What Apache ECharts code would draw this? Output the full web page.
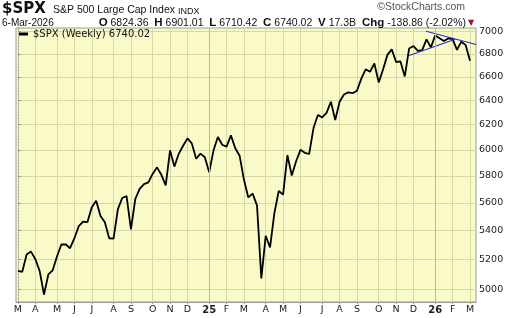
<!DOCTYPE html>
<html>
<head>
<meta charset="utf-8">
<script src="https://cdn.jsdelivr.net/npm/echarts@6/dist/echarts.min.js"></script>
<style>
html,body{margin:0;padding:0;background:#fff;}
#chart{width:520px;height:318px;}
</style>
</head>
<body>
<div id="chart"></div>
<script>
// Week-ending dates (weekly bars)
const dates = [
 '2024-03-08','2024-03-15','2024-03-22','2024-03-29','2024-04-05','2024-04-12','2024-04-19','2024-04-26',
 '2024-05-03','2024-05-10','2024-05-17','2024-05-24','2024-05-31','2024-06-07','2024-06-14','2024-06-21',
 '2024-06-28','2024-07-05','2024-07-12','2024-07-19','2024-07-26','2024-08-02','2024-08-09','2024-08-16',
 '2024-08-23','2024-08-30','2024-09-06','2024-09-13','2024-09-20','2024-09-27','2024-10-04','2024-10-11',
 '2024-10-18','2024-10-25','2024-11-01','2024-11-08','2024-11-15','2024-11-22','2024-11-29','2024-12-06',
 '2024-12-13','2024-12-20','2024-12-27',
 '2025-01-03','2025-01-10','2025-01-17','2025-01-24','2025-01-31','2025-02-07','2025-02-14','2025-02-21',
 '2025-02-28','2025-03-07','2025-03-14','2025-03-21','2025-03-28','2025-04-04','2025-04-11','2025-04-18',
 '2025-04-25','2025-05-02','2025-05-09','2025-05-16','2025-05-23','2025-05-30','2025-06-06','2025-06-13',
 '2025-06-20','2025-06-27','2025-07-04','2025-07-11','2025-07-18','2025-07-25','2025-08-01','2025-08-08',
 '2025-08-15','2025-08-22','2025-08-29','2025-09-05','2025-09-12','2025-09-19','2025-09-26','2025-10-03',
 '2025-10-10','2025-10-17','2025-10-24','2025-10-31','2025-11-07','2025-11-14','2025-11-21','2025-11-28',
 '2025-12-05','2025-12-12','2025-12-19','2025-12-26',
 '2026-01-02','2026-01-09','2026-01-16','2026-01-23','2026-01-30','2026-02-06','2026-02-13','2026-02-20',
 '2026-02-27','2026-03-06'
];
// Weekly closes of $SPX
const closes = [
 5123.69,5117.09,5234.18,5254.35,5204.34,5123.41,4967.23,5099.96,
 5127.79,5222.68,5303.27,5304.72,5277.51,5346.99,5431.60,5464.62,
 5460.48,5567.19,5615.35,5505.00,5459.10,5346.56,5344.16,5554.25,
 5634.61,5648.40,5408.42,5626.02,5702.55,5738.17,5751.07,5815.03,
 5864.67,5808.12,5728.80,5995.54,5870.62,5969.34,6032.38,6090.27,
 6051.09,5930.85,5970.84,
 5942.47,5827.04,5996.66,6101.24,6040.53,6025.99,6114.63,6013.13,
 5954.50,5770.20,5638.94,5667.56,5580.94,5074.08,5363.36,5282.70,
 5525.21,5686.67,5659.91,5958.38,5802.82,5911.69,6000.36,5976.97,
 5967.84,6173.07,6279.35,6259.75,6296.79,6388.64,6238.01,6389.45,
 6449.80,6466.91,6460.26,6481.50,6584.29,6664.36,6643.70,6715.79,
 6552.51,6664.01,6791.69,6840.20,6728.80,6734.11,6602.99,6849.09,
 6870.40,6827.41,6834.50,6929.94,
 6858.47,6966.28,6940.01,6915.61,6939.03,6932.30,6836.17,6909.51,
 6878.88,6740.02
];
// Trendlines (x = bar index, y = price)
const trendUpper = [[93.9, 7004], [105.4, 6885]];
const trendLower = [[90.0, 6786], [100.6, 6932]];
// Price-axis tick labels
const yTicks = [5000, 5200, 5400, 5600, 5800, 6000, 6200, 6400, 6600, 6800, 7000];
const monthLetters = ['J','F','M','A','M','J','J','A','S','O','N','D'];
// Header values
const quote = {date:'6-Mar-2026', O:'6824.36', H:'6901.01', L:'6710.42', C:'6740.02', V:'17.3B', chg:'-138.86 (-2.02%)'};

function weekMonth(s){
  const d = new Date(s + 'T00:00:00Z');
  d.setUTCDate(d.getUTCDate() - 4); // Monday of that week
  return {y: d.getUTCFullYear(), m: d.getUTCMonth()};
}
const monthIdx = [], yearIdx = [], monthLabel = {};
dates.forEach((s, i) => {
  const cur = weekMonth(s);
  const prev = i > 0 ? weekMonth(dates[i-1]) : {y: cur.y, m: cur.m - 1};
  if (cur.m !== prev.m || cur.y !== prev.y) {
    monthIdx.push(i);
    if (cur.m === 0) { yearIdx.push(i); monthLabel[i] = '{y|' + String(cur.y).slice(2) + '}'; }
    else monthLabel[i] = monthLetters[cur.m];
  }
});

const seriesData = closes.map((v, i) => [i, v]);
const F = 'DejaVu Sans';
const A = '"Liberation Sans"';
const quoteLine = '{b|O} ' + quote.O + '  {b|H} ' + quote.H + '  {b|L} ' + quote.L +
  '  {b|C} ' + quote.C + '  {b|V} ' + quote.V + '  {b|Chg} ' + quote.chg;

const chart = echarts.init(document.getElementById('chart'), null, {renderer: 'canvas'});
chart.setOption({
  animation: false,
  backgroundColor: '#ffffff',
  grid: {left: 16, right: 44, top: 28, bottom: 16, show: true, backgroundColor: '#fafac8', borderColor: '#9a9a9a', borderWidth: 1},
  legend: {
    show: true, left: 17, top: 27, itemWidth: 9, itemHeight: 3, itemGap: 4, padding: 2,
    icon: 'rect',
    textStyle: {fontFamily: F, fontSize: 10, color: '#111'},
    data: [{name: '$SPX (Weekly) ' + quote.C, itemStyle: {color: '#000'}}]
  },
  xAxis: {
    type: 'value', min: -0.44, max: 105.38,
    axisLine: {show: true, lineStyle: {color: '#9a9a9a'}},
    axisTick: {show: true, customValues: monthIdx, length: 2, lineStyle: {color: '#9a9a9a'}},
    axisLabel: {
      customValues: monthIdx, margin: 3, color: '#222', fontFamily: F, fontSize: 9.5,
      formatter: v => monthLabel[v] || '',
      rich: {y: {fontFamily: F, fontSize: 10, fontWeight: 'bold', color: '#222'}}
    },
    splitLine: {show: true, lineStyle: {color: '#d8d8a6', width: 1}}
  },
  yAxis: {
    type: 'log', logBase: 10, min: 4920, max: 7034, position: 'right',
    axisLine: {show: true, lineStyle: {color: '#9a9a9a', type: [1, 2]}},
    axisTick: {show: true, customValues: yTicks, length: 3, lineStyle: {color: '#9a9a9a'}},
    axisLabel: {customValues: yTicks, margin: 3, color: '#222', fontFamily: F, fontSize: 9.5,
      formatter: v => String(Math.round(v))},
    splitLine: {show: true, lineStyle: {color: '#d8d8a6', width: 1}}
  },
  graphic: [
    {type: 'text', left: 2, top: 2, style: {text: '$SPX', font: 'bold 15px "DejaVu Sans"', fill: '#111'}},
    {type: 'text', left: 53, top: 5, style: {text: 'S&P 500 Large Cap Index', font: '10.5px ' + A, fill: '#111'}},
    {type: 'text', left: 178, top: 7, style: {text: 'INDX', font: '9px ' + A, fill: '#111'}},
    {type: 'text', right: 55, top: 2, style: {text: '\u00A9StockCharts.com', font: '10.5px ' + A, fill: '#555'}},
    {type: 'text', left: 2, top: 18, style: {text: quote.date, font: '10px ' + A, fill: '#111'}},
    {type: 'text', right: 54, top: 17, style: {text: quoteLine, font: '10.5px ' + A, fill: '#111',
      rich: {b: {font: 'bold 11.5px ' + A, fill: '#111'}}}},
    {type: 'text', left: 468, top: 19, style: {text: '\u25BC', font: '8px "DejaVu Sans"', fill: '#8b1a2b'}}
  ],
  series: [
    {
      type: 'line', name: '_years', data: [], z: 1, silent: true,
      markLine: {silent: true, symbol: 'none', animation: false, label: {show: false},
        lineStyle: {color: '#b4c08a', type: 'solid', width: 1},
        data: yearIdx.map(i => ({xAxis: i}))}
    },
    {
      type: 'line', name: '$SPX (Weekly) ' + quote.C, data: seriesData, z: 3,
      showSymbol: false, symbol: 'none', smooth: false,
      lineStyle: {color: '#000', width: 1.8}, itemStyle: {color: '#000'}
    },
    {
      type: 'line', name: 'trendUpper', data: trendUpper, z: 4, showSymbol: false, symbol: 'none',
      lineStyle: {color: '#2a2ac8', width: 1.1}, clip: true
    },
    {
      type: 'line', name: 'trendLower', data: trendLower, z: 4, showSymbol: false, symbol: 'none',
      lineStyle: {color: '#2a2ac8', width: 1.1}, clip: true
    }
  ]
});
</script>
</body>
</html>
